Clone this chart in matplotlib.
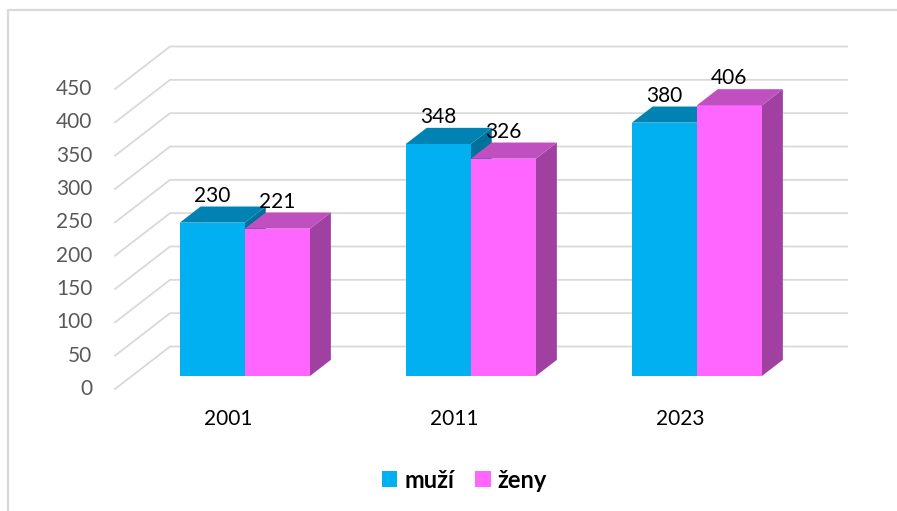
import matplotlib.pyplot as plt
from matplotlib.patches import Patch

years = ["2001", "2011", "2023"]
muzi = [230, 348, 380]
zeny = [221, 326, 406]
series_names = ["muží", "ženy"]
y_ticks = [0, 50, 100, 150, 200, 250, 300, 350, 400, 450]

# colours: front face, top face, side face
blue = ("#00B0F0", "#0083B3", "#00719A")
pink = ("#FF66FF", "#C050C0", "#A040A0")
grid_col = "#D9D9D9"

# fake 3d: a point at depth d (0..1) is shifted by (d*DX, d*DY)
DX = 0.2434
DY = 63.75
BAR_D0, BAR_D1 = 0.306, 0.686
BAR_W = 0.288

plt.rcParams["font.family"] = ["Lato", "DejaVu Sans"]

fig = plt.figure(figsize=(8.97, 5.11), dpi=100)
ax = fig.add_axes([0, 0, 1, 1])
ax.set_xlim(-1.009, 2.960)
ax.set_ylim(-183, 583.5)
ax.axis("off")

# chart border (only top and left visible)
ax.plot([0.0084, 0.0084, 1.0], [0.0, 0.9795, 0.9795], transform=ax.transAxes,
        color=grid_col, lw=1.6, clip_on=False)

# side wall diagonals + back wall grid lines
for v in y_ticks:
    ax.plot([-0.5, -0.5 + DX, 2.739], [v, v + DY, v + DY], color=grid_col, lw=1.3, zorder=1)
    ax.text(-0.6, v, str(v), ha="right", va="center", fontsize=15, color="#595959")


def draw_box(x0, x1, h, cols, z):
    ax0, ay0 = BAR_D0 * DX, BAR_D0 * DY
    ax1, ay1 = BAR_D1 * DX, BAR_D1 * DY
    front_c, top_c, side_c = cols
    ax.fill([x1 + ax0, x1 + ax1, x1 + ax1, x1 + ax0],
            [ay0, ay1, h + ay1, h + ay0], color=side_c, lw=0, zorder=z)
    ax.fill([x0 + ax0, x1 + ax0, x1 + ax0, x0 + ax0],
            [ay0, ay0, h + ay0, h + ay0], color=front_c, lw=0, zorder=z + 1)
    ax.fill([x0 + ax0, x1 + ax0, x1 + ax1, x0 + ax1],
            [h + ay0, h + ay0, h + ay1, h + ay1], color=top_c, lw=0, zorder=z + 2)
    ax.text((x0 + x1) / 2 + ax0, h + ay0 + 40.5, str(h), ha="center", va="center",
            fontsize=15, color="black", zorder=20)


for i, year in enumerate(years):
    draw_box(i - BAR_W, i, muzi[i], blue, 5 + i * 10)
    draw_box(i, i + BAR_W, zeny[i], pink, 8 + i * 10)
    ax.text(i, -45, year, ha="center", va="center", fontsize=15, color="black")

handles = [Patch(facecolor=blue[0]), Patch(facecolor=pink[0])]
ax.legend(handles, series_names, loc="center", bbox_to_anchor=(464.5 / 897, 1 - 480 / 511),
          ncol=2, frameon=False, handlelength=0.65, handleheight=0.65,
          handletextpad=0.3, columnspacing=0.9,
          prop={"weight": "bold", "size": 17})

fig.savefig("out.png", dpi=100)
